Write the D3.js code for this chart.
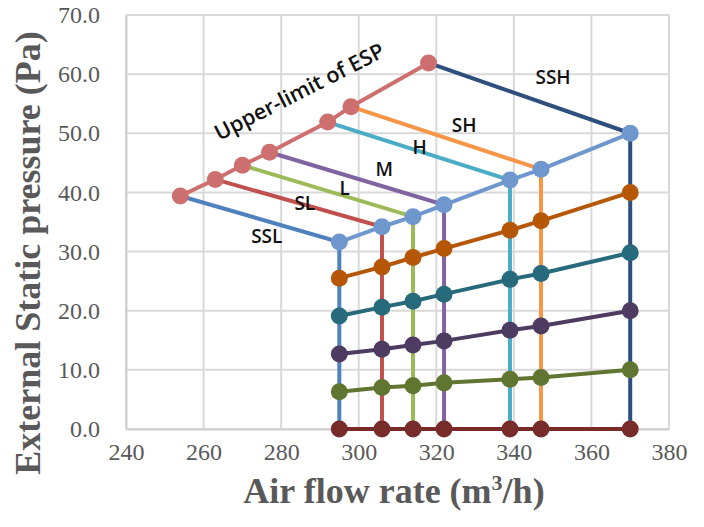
<!DOCTYPE html>
<html>
<head>
<meta charset="utf-8">
<script src="https://cdn.jsdelivr.net/npm/d3@7"></script>
<style>
  body { margin: 0; background: #fff; }
  svg { display: block; }
</style>
</head>
<body>
<svg id="chart" width="704" height="527"></svg>
<script>
// fan modes and their air flow rates (m3/h)
const fanModes = ["SSL", "SL", "L", "M", "H", "SH", "SSH"];
const airflow = [295, 306, 314, 322, 339, 347, 370];

// upper limit of ESP, one point per fan mode
const upperLimitX = [254, 263, 270, 277, 292, 298, 318];
const upperLimitY = [39.4, 42.2, 44.6, 46.8, 51.9, 54.5, 61.9];

// ESP curves across the fan modes (Pa)
const espTop = [31.6, 34.2, 35.9, 37.9, 42.1, 43.9, 50.0];
const esp4 = [25.5, 27.4, 29.0, 30.5, 33.6, 35.2, 40.0];
const esp3 = [19.1, 20.6, 21.6, 22.8, 25.3, 26.3, 29.8];
const esp2 = [12.7, 13.5, 14.2, 14.9, 16.7, 17.4, 20.0];
const esp1 = [6.3, 7.0, 7.3, 7.8, 8.4, 8.7, 10.0];
const esp0 = [0, 0, 0, 0, 0, 0, 0];

// axis ticks
const xTicks = [240, 260, 280, 300, 320, 340, 360, 380];
const yTicks = [0, 10, 20, 30, 40, 50, 60, 70];

// where the mode labels sit (data units)
const labelX = [276.3, 286.1, 296.4, 306.6, 315.7, 327.2, 350.1];
const labelY = [31.4, 37.0, 39.6, 42.7, 46.5, 50.3, 58.3];
const upperLabel = { text: "Upper-limit of ESP", x: 285.6, y: 55.9, angle: -27 };

const modeColors = ["#4F81BD", "#C0504D", "#9BBB59", "#8064A2", "#4BACC6", "#F79646", "#2E4F7E"];
const curveColors = ["#772C2A", "#5F7530", "#4D3B62", "#276A7C", "#B65708", "#6E97CD"];
const upperColor = "#CD6F6E";

const margin = { top: 15, right: 35, bottom: 98, left: 126 };
const W = 704, H = 527;
const width = W - margin.left - margin.right;
const height = H - margin.top - margin.bottom;

const svg = d3.select("#chart");
const g = svg.append("g").attr("transform", `translate(${margin.left},${margin.top})`);

const x = d3.scaleLinear().domain([240, 380]).range([0, width]);
const y = d3.scaleLinear().domain([0, 70]).range([height, 0]);

// grid
g.append("g")
  .selectAll("line")
  .data(xTicks)
  .enter()
  .append("line")
  .attr("x1", d => x(d)).attr("x2", d => x(d))
  .attr("y1", 0).attr("y2", height)
  .attr("stroke", "#D9D9D9").attr("stroke-width", 2);
g.append("g")
  .selectAll("line")
  .data(yTicks)
  .enter()
  .append("line")
  .attr("x1", 0).attr("x2", width)
  .attr("y1", d => y(d)).attr("y2", d => y(d))
  .attr("stroke", "#D9D9D9").attr("stroke-width", 2);

// axes
const xAxis = d3.axisBottom(x).tickValues(xTicks).tickSize(0).tickPadding(14).tickFormat(d3.format("d"));
const yAxis = d3.axisLeft(y).tickValues(yTicks).tickSize(0).tickPadding(26).tickFormat(d3.format(".1f"));

const gx = g.append("g").attr("transform", `translate(0,${height})`).call(xAxis);
const gy = g.append("g").call(yAxis);
[gx, gy].forEach(a => {
  a.select(".domain").attr("stroke", "#CFCFCF").attr("stroke-width", 2);
  a.selectAll("text")
    .style("font-family", "'Liberation Serif', 'Times New Roman', serif")
    .style("font-size", "24px")
    .attr("fill", "#595959");
});
gx.selectAll("text").attr("dy", "0.71em");

const line = d3.line().x(d => x(d[0])).y(d => y(d[1]));

// fan mode lines: upper limit -> top of curve -> down to 0
fanModes.forEach((m, i) => {
  const pts = [[upperLimitX[i], upperLimitY[i]], [airflow[i], espTop[i]], [airflow[i], esp0[i]]];
  g.append("path")
    .datum(pts)
    .attr("d", line)
    .attr("fill", "none")
    .attr("stroke", modeColors[i])
    .attr("stroke-width", 4);
});

// ESP curves with markers
const curves = [esp0, esp1, esp2, esp3, esp4, espTop];
curves.forEach((vals, k) => {
  const pts = airflow.map((a, i) => [a, vals[i]]);
  g.append("path")
    .datum(pts)
    .attr("d", line)
    .attr("fill", "none")
    .attr("stroke", curveColors[k])
    .attr("stroke-width", 4);
  g.append("g")
    .selectAll("circle")
    .data(pts)
    .enter()
    .append("circle")
    .attr("cx", d => x(d[0]))
    .attr("cy", d => y(d[1]))
    .attr("r", 8.5)
    .attr("fill", curveColors[k]);
});

// upper limit line
const upPts = upperLimitX.map((a, i) => [a, upperLimitY[i]]);
g.append("path")
  .datum(upPts)
  .attr("d", line)
  .attr("fill", "none")
  .attr("stroke", upperColor)
  .attr("stroke-width", 4);
g.append("g")
  .selectAll("circle")
  .data(upPts)
  .enter()
  .append("circle")
  .attr("cx", d => x(d[0]))
  .attr("cy", d => y(d[1]))
  .attr("r", 8.5)
  .attr("fill", upperColor);

// labels
const labelFont = "'Open Sans', 'DejaVu Sans', sans-serif";
g.append("g")
  .selectAll("text")
  .data(fanModes)
  .enter()
  .append("text")
  .attr("x", (d, i) => x(labelX[i]))
  .attr("y", (d, i) => y(labelY[i]))
  .attr("text-anchor", "middle")
  .style("font-family", labelFont)
  .style("font-size", "19px")
  .style("font-weight", 600)
  .attr("fill", "#111")
  .text(d => d);

g.append("text")
  .attr("transform", `translate(${x(upperLabel.x)},${y(upperLabel.y)}) rotate(${upperLabel.angle})`)
  .attr("text-anchor", "middle")
  .style("font-family", labelFont)
  .style("font-size", "21.5px")
  .style("font-weight", 600)
  .attr("fill", "#111")
  .text(upperLabel.text);

// axis titles
const titleFont = "'Liberation Serif', 'Times New Roman', serif";
const xt = svg.append("text")
  .attr("x", 394)
  .attr("y", 503)
  .attr("text-anchor", "middle")
  .style("font-family", titleFont)
  .style("font-size", "36px")
  .style("font-weight", "bold")
  .attr("fill", "#595959");
xt.append("tspan").text("Air flow rate (m");
xt.append("tspan").attr("dy", -13).style("font-size", "22px").text("3");
xt.append("tspan").attr("dy", 13).text("/h)");

svg.append("text")
  .attr("transform", "translate(40,253) rotate(-90)")
  .attr("text-anchor", "middle")
  .style("font-family", titleFont)
  .style("font-size", "36px")
  .style("font-weight", "bold")
  .attr("fill", "#595959")
  .text("External Static pressure (Pa)");
</script>
</body>
</html>
